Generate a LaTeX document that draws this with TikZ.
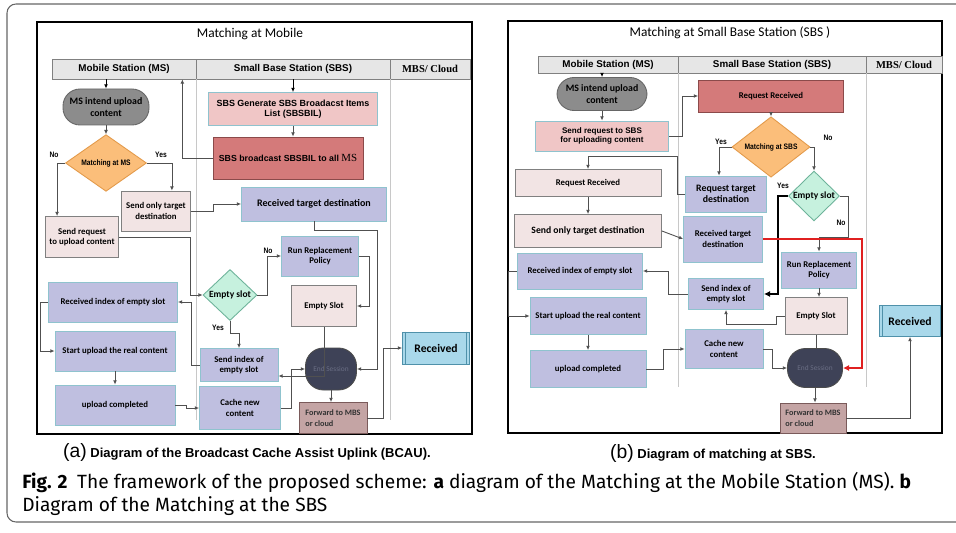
\documentclass[tikz,border=0pt]{standalone}
\usepackage{fontspec}
\setmainfont{Carlito}
\newfontfamily\calibri{Carlito}
\newfontfamily\arialf{Liberation Sans}
\newfontfamily\arialn[FakeStretch=0.85]{Liberation Sans}
\newfontfamily\timesf{Liberation Serif}
\newfontfamily\capfont{Fira Sans}
\usetikzlibrary{shapes.geometric,arrows.meta}

\definecolor{hdrfill}{HTML}{E6E6E6}
\definecolor{pinkfill}{HTML}{F2E4E4}
\definecolor{rosefill}{HTML}{F0C6C6}
\definecolor{redfill}{HTML}{D47A7A}
\definecolor{redline}{HTML}{8B4A4A}
\definecolor{lavfill}{HTML}{BFBFE0}
\definecolor{tealline}{HTML}{8FC3CE}
\definecolor{greyfill}{HTML}{8C8C8C}
\definecolor{orangefill}{HTML}{FBBE7A}
\definecolor{orangeline}{HTML}{E39A4A}
\definecolor{mintfill}{HTML}{C6F1DE}
\definecolor{mintline}{HTML}{6DB39A}
\definecolor{darkfill}{HTML}{3E4257}
\definecolor{darktext}{HTML}{6A6E84}
\definecolor{fwdfill}{HTML}{C4A4A4}
\definecolor{fwdline}{HTML}{7A5A5A}
\definecolor{recvfill}{HTML}{A9D8EA}
\definecolor{recvline}{HTML}{4F91AA}
\definecolor{connline}{HTML}{505050}
\definecolor{laneline}{HTML}{C8C8C8}
\definecolor{flowred}{HTML}{E02020}

\begin{document}
\begin{tikzpicture}[x=0.02cm, y=-0.02cm, >={Latex[length=2.4pt,width=2.2pt]},
    sz/.style 2 args={minimum width=#1*0.02cm, minimum height=#2*0.02cm}]
        \tikzstyle{panel}     = [draw = black, line width=0.8pt]
        \tikzstyle{hdr}       = [shape = rectangle, draw = gray, fill = hdrfill, inner sep=0pt, font=\arialf\bfseries\fontsize{5.6}{6}\selectfont]
        \tikzstyle{mbs_hdr}   = [hdr, font=\timesf\bfseries\fontsize{6}{6}\selectfont]
        \tikzstyle{ttl}       = [font=\calibri\fontsize{7.6}{9}\selectfont]
        \tikzstyle{lane}      = [draw = laneline, line width=0.5pt]
        \tikzstyle{box}       = [shape = rectangle, inner sep=0pt, align=center, line width=0.5pt, font=\calibri\bfseries\fontsize{5}{6}\selectfont]
        \tikzstyle{pink_box}  = [box, draw = gray, fill = pinkfill]
        \tikzstyle{rose_box}  = [box, draw = tealline, fill = rosefill, font=\arialf\bfseries\fontsize{5.1}{6}\selectfont]
        \tikzstyle{red_box}   = [box, draw = redline, fill = redfill]
        \tikzstyle{lav_box}   = [box, draw = tealline, fill = lavfill]
        \tikzstyle{start_box} = [box, draw = black!60, fill = greyfill, rounded corners=0.34cm, font=\calibri\bfseries\fontsize{5.6}{6.6}\selectfont]
        \tikzstyle{end_box}   = [box, draw = black!70, fill = darkfill, text = darktext, rounded corners=0.36cm, font=\calibri\fontsize{4.2}{5}\selectfont]
        \tikzstyle{fwd_box}   = [box, draw = fwdline, fill = fwdfill, align=left, text = black!80, font=\calibri\bfseries\fontsize{4.7}{6.4}\selectfont]
        \tikzstyle{recv_box}  = [box, draw = recvline, fill = recvfill, font=\calibri\bfseries\fontsize{6.6}{7}\selectfont]
        \tikzstyle{match_dia} = [shape = diamond, draw = orangeline, fill = orangefill, inner sep=0pt, line width=0.5pt, font=\arialn\bfseries\fontsize{4.5}{5}\selectfont]
        \tikzstyle{slot_dia}  = [shape = diamond, draw = mintline, fill = mintfill, inner sep=0pt, line width=0.5pt, font=\calibri\bfseries\fontsize{5.4}{6}\selectfont]
        \tikzstyle{lbl}       = [font=\arialn\bfseries\fontsize{4.5}{5}\selectfont]
        \tikzstyle{conn}      = [->, draw = connline, line width=0.5pt]
        \tikzstyle{subcap}    = [font=\arialf\bfseries\fontsize{7.4}{8}\selectfont]

        \clip (0,0) rectangle (956,533);
        \fill[white] (0,0) rectangle (956,533);
        \draw[draw = black!60, line width=0.6pt, rounded corners=0.18cm] (7,4) rectangle (1000,522);

        % (a) matching at mobile
        \draw[panel] (37,22) rectangle (472,434);
        \node[ttl] at (250,34) (a_title) {Matching at Mobile};

        \node[hdr, sz={144}{20}] at (124,69) (a_ms) {Mobile Station (MS)};
        \node[hdr, sz={194}{20}] at (293,69) (a_sbs) {Small Base Station (SBS)};
        \node[mbs_hdr, sz={80}{20}] at (430,69) (a_mbs) {MBS/ Cloud};
        \draw[lane] (a_ms.south east) -- ++(0,341);
        \draw[lane] (a_sbs.south east) -- ++(0,341);

        \node[start_box, sz={86}{36}] at (106,107) (a_intend) {MS intend upload\\content};
        \node[match_dia, sz={81}{52}] at (106,163) (a_match) {Matching at MS};
        \node[pink_box, sz={69}{40}] at (156,211) (a_sendonly) {Send only target\\destination};
        \node[pink_box, sz={73}{41}] at (82,237) (a_sendreq) {Send request\\to upload content};
        \node[rose_box, sz={169}{33}] at (293,109) (a_sbsgen) {SBS Generate SBS Broadacst Items\\List (SBSBIL)};
        \node[red_box, sz={150}{42}, font=\arialf\bfseries\fontsize{5}{6}\selectfont] at (288,158) (a_bcast) {SBS broadcast SBSBIL to all {\timesf\mdseries\fontsize{6.2}{7}\selectfont MS}};
        \node[lav_box, sz={145}{34}, font=\calibri\bfseries\fontsize{5.7}{6}\selectfont] at (314,204) (a_rtd) {Received target destination};
        \node[slot_dia, sz={54}{51}] at (230,295) (a_empty) {Empty slot};
        \node[lav_box, sz={77}{40}] at (320,256) (a_rrp) {Run Replacement\\Policy};
        \node[pink_box, sz={65}{41}] at (324,306) (a_eslot) {Empty Slot};
        \node[lav_box, sz={78}{33}] at (239,365) (a_sendidx) {Send index of\\empty slot};
        \node[lav_box, sz={129}{40}] at (113,302) (a_ridx) {Received index of empty slot};
        \node[lav_box, sz={120}{40}] at (115,351) (a_start) {Start upload the real content};
        \node[lav_box, sz={120}{40}] at (115,405) (a_upl) {upload completed};
        \node[lav_box, sz={81}{43}] at (240,408) (a_cache) {Cache new\\content};
        \node[end_box, sz={51}{42}] at (331,369) (a_end) {End Session};
        \node[fwd_box, sz={68}{31}] at (333,418) (a_fwd) {Forward to MBS\\or cloud};
        \node[recv_box, sz={67}{32}] at (436,348) (a_recv) {Received};
        \draw[recvline, line width=0.5pt]
          ([xshift=0.07cm]a_recv.north west) -- ([xshift=0.07cm]a_recv.south west)
          ([xshift=-0.07cm]a_recv.north east) -- ([xshift=-0.07cm]a_recv.south east);

        \node[lbl] at (54,155) (a_no) {No};
        \node[lbl] at (161,155) (a_yes) {Yes};
        \node[lbl] at (268,251) (a_no2) {No};
        \node[lbl] at (218,328) (a_yes2) {Yes};

        \draw[conn, draw=black]
          (a_intend.north |- a_ms.south) -- (a_intend.north);
        \draw[conn, draw=black]
          (a_sbs.south) -- (a_sbsgen.north);
        \draw[conn]
          (a_intend.south) -- (a_match.north);
        \draw[conn]
          (a_sbsgen.south) -- (a_sbsgen.south |- a_bcast.north);
        \draw[conn]
          (a_bcast.west) -| ([xshift=-0.28cm]a_ms.south east);
        \draw[conn]
          (a_match.west) -| ([xshift=0.24cm]a_sendreq.north west);
        \draw[conn]
          (a_match.east) -| ([xshift=-0.38cm]a_sendonly.north east);
        \draw[conn]
          (a_sendonly.east) -- ++(22,0) |- (a_rtd.west);
        \draw[conn]
          (a_sendreq.east) -- ++(71,0) |- (a_empty.west);
        \draw[conn]
          (a_empty.east) -- ++(10,0) |- (a_rrp.west);
        \draw[conn]
          (a_empty.south) -- ++(0,12) -| (a_sendidx.north);
        \draw[conn]
          (a_rrp.east) -- ++(10,0) |- (a_eslot.east);
        \draw[conn]
          (a_rtd.south) |- ++(63,9) |- (a_end.east);
        \draw[conn]
          (a_sendidx.west) -- ++(-8,0) |- (a_ridx.east);
        \draw[conn]
          (a_ridx.west) -- ++(-8,0) |- (a_start.west);
        \draw[conn]
          (a_start.south) -- (a_upl.north);
        \draw[conn]
          (a_upl.east) -- ++(11,0) |- (a_cache.west);
        \draw[conn]
          (a_cache.east) -- ++(10,0) |- (a_end.west);
        \draw[conn]
          (a_eslot.south) |- ([yshift=-0.22cm]a_sendidx.east);
        \draw[conn]
          (a_end.south) -- (a_end.south |- a_fwd.north);
        \draw[conn]
          (a_fwd.east) -- ++(16,0) |- (a_recv.west);

        \node[subcap] at (247,452) (a_cap) {{\mdseries\fontsize{11}{11}\selectfont(a)} Diagram of the Broadcast Cache Assist Uplink (BCAU).};

        % (b) matching at SBS
        \draw[panel] (508,21) rectangle (942,433);
        \node[ttl] at (730,33) (b_title) {Matching at Small Base Station (SBS )};

        \node[hdr, sz={140}{17}] at (608,64.5) (b_ms) {Mobile Station (MS)};
        \node[hdr, sz={188}{17}] at (772,64.5) (b_sbs) {Small Base Station (SBS)};
        \node[mbs_hdr, sz={76}{17}] at (904,64.5) (b_mbs) {MBS/ Cloud};
        \draw[lane] (b_ms.south east) -- ++(0,314);
        \draw[lane] (b_sbs.south east) -- ++(0,314);

        \node[start_box, sz={90}{33}] at (602,94) (b_intend) {MS intend upload\\content};
        \node[rose_box, sz={133}{30}, font=\arialf\bfseries\fontsize{4.6}{5.6}\selectfont] at (602,136) (b_sendreq) {Send request to SBS\\for uploading content};
        \node[red_box, sz={145}{32}] at (771,96) (b_reqrec_sbs) {Request Received};
        \node[match_dia, sz={78}{49}] at (771,147) (b_match) {Matching at SBS};
        \node[lav_box, sz={81}{36}, font=\calibri\bfseries\fontsize{5.6}{6.6}\selectfont] at (726,194) (b_reqtgt) {Request target\\destination};
        \node[pink_box, sz={146}{27}] at (588,183) (b_reqrec_ms) {Request Received};
        \node[pink_box, sz={147}{33}, font=\calibri\bfseries\fontsize{5.5}{6}\selectfont] at (588,231) (b_sendonly) {Send only target destination};
        \node[lav_box, sz={79}{46}] at (723,239) (b_rtd) {Received target\\destination};
        \node[slot_dia, sz={51}{47}] at (814,196) (b_empty) {Empty slot};
        \node[lav_box, sz={75}{36}] at (819,270) (b_rrp) {Run Replacement\\Policy};
        \node[pink_box, sz={62}{37}] at (816,316) (b_eslot) {Empty Slot};
        \node[end_box, sz={55}{39}] at (815,368) (b_end) {End Session};
        \node[lav_box, sz={75}{31}] at (726,294) (b_sendidx) {Send index of\\empty slot};
        \node[lav_box, sz={125}{36}] at (580,271) (b_ridx) {Received index of empty slot};
        \node[lav_box, sz={116}{37}] at (588,316) (b_start) {Start upload the real content};
        \node[lav_box, sz={116}{37}] at (588,369) (b_upl) {upload completed};
        \node[lav_box, sz={78}{39}] at (724,349) (b_cache) {Cache new\\content};
        \node[fwd_box, sz={66}{30}] at (813,418) (b_fwd) {Forward to MBS\\or cloud};
        \node[recv_box, sz={61}{31}] at (910,321) (b_recv) {Received};
        \draw[recvline, line width=0.5pt]
          ([xshift=0.07cm]b_recv.north west) -- ([xshift=0.07cm]b_recv.south west);

        \node[lbl] at (721,142) (b_yes) {Yes};
        \node[lbl] at (828,138) (b_no) {No};
        \node[lbl] at (783,186) (b_yes2) {Yes};
        \node[lbl] at (841,223) (b_no2) {No};

        \draw[conn, draw=black]
          (b_intend.north |- b_ms.south) -- (b_intend.north);
        \draw[conn]
          (b_intend.south) -- (b_sendreq.north);
        \draw[conn]
          (b_sendreq.east) -- ++(13,0) |- (b_reqrec_sbs.west);
        \draw[conn]
          (b_reqrec_sbs.south) -- (b_match.north);
        \draw[conn]
          (b_match.west) -| ([xshift=-0.14cm]b_reqtgt.north);
        \draw[conn]
          (b_reqtgt.west) -| ++(-8,-38) -| (b_reqrec_ms.north);
        \draw[conn]
          (b_reqrec_ms.south) -- (b_sendonly.north);
        \draw[conn]
          (b_sendonly.east) -- (b_rtd.west);
        \draw[conn]
          (b_match.east) -| (b_empty.north);
        \draw[->, draw=black, line width=1.3pt, >={Latex[length=3.5pt,width=3.5pt]}]
          (b_empty.west) -- ++(-10,0) |- (b_sendidx.east);
        \draw[conn]
          (b_empty.east) -| ++(8,41) -| (b_rrp.north);
        \draw[conn]
          (b_rrp.south) -- (b_rrp.south |- b_eslot.north);
        \draw[draw=connline, line width=0.5pt]
          (b_eslot.south) -- (b_eslot.south |- b_end.north);
        \draw[conn]
          (b_eslot.west) -| ++(-8,8) -| (b_sendidx.south);
        \draw[->, draw=flowred, line width=1pt, >={Latex[length=3.5pt,width=3.5pt]}]
          (b_rtd.east) -- ++(99,0) |- (b_end.east);
        \draw[conn]
          (b_sendidx.west) -- ++(-20,0) |- (b_ridx.east);
        \draw[conn]
          (b_ridx.west) -- ++(-9,0) |- (b_start.west);
        \draw[conn]
          (b_start.south) -- (b_upl.north);
        \draw[conn]
          (b_upl.east) -- ++(17,0) |- (b_cache.west);
        \draw[conn]
          (b_cache.east) -- ++(9,0) |- (b_end.west);
        \draw[conn]
          (b_end.south) -- (b_end.south |- b_fwd.north);
        \draw[conn]
          (b_fwd.east) -| (b_recv.south);

        \node[subcap] at (713,453) (b_cap) {{\mdseries\fontsize{11}{11}\selectfont(b)} Diagram of matching at SBS.};

        % figure caption
        \node[anchor=west, align=left, inner sep=0pt, font=\capfont\fontsize{10.9}{13}\selectfont] at (22,494) (fig_cap)
          {{\bfseries Fig. 2}\enspace The framework of the proposed scheme: {\bfseries a} diagram of the Matching at the Mobile Station (MS). {\bfseries b}\\Diagram of the Matching at the SBS};
\end{tikzpicture}
\end{document}
